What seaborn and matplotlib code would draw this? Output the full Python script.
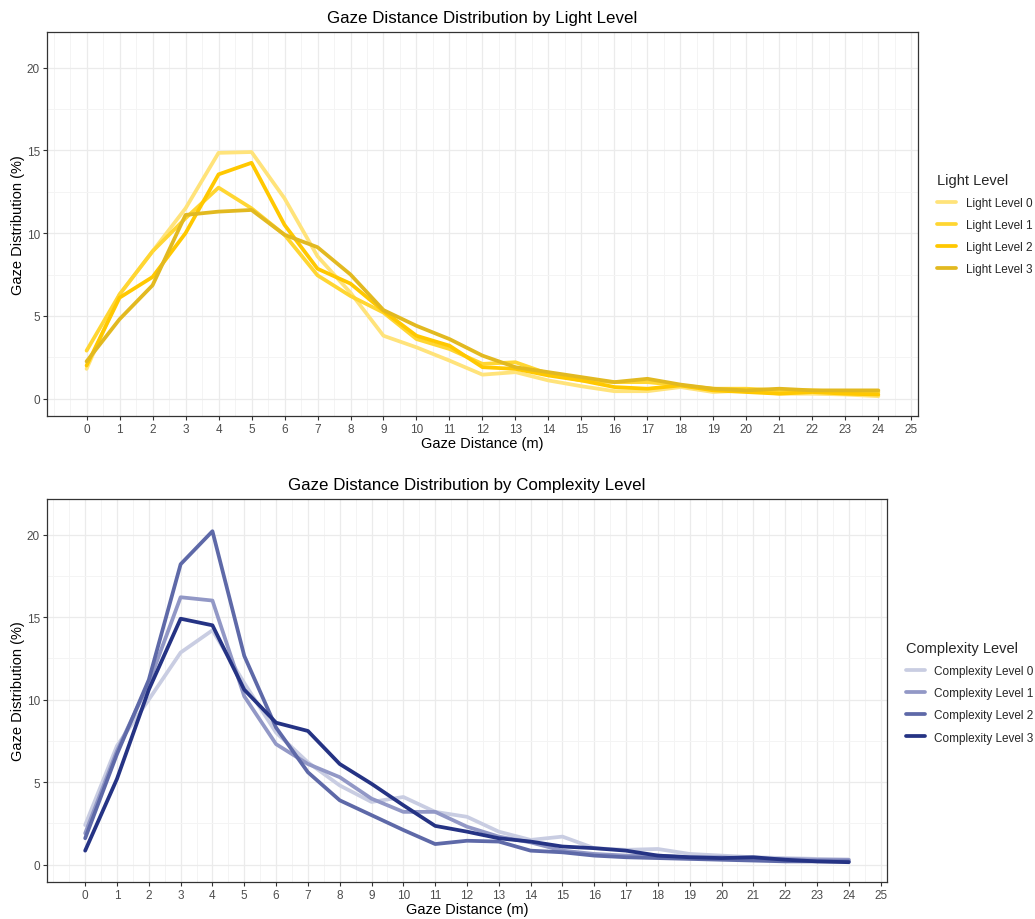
import numpy as np
import pandas as pd
import seaborn as sns
import matplotlib
matplotlib.use("Agg")
import matplotlib.pyplot as plt
from matplotlib.ticker import MultipleLocator, FixedLocator

# Gaze distance bins (m)
distance = list(range(0, 25))
distance_ticks = list(range(0, 26))

# Gaze distribution (%) per light level
light_levels = ["Light Level 0", "Light Level 1", "Light Level 2", "Light Level 3"]
light_0 = [1.8, 6.3, 8.9, 11.5, 14.85, 14.9, 12.1, 8.6, 6.4, 3.8, 3.1, 2.3, 1.45, 1.6, 1.1, 0.75, 0.45, 0.45, 0.7, 0.4, 0.5, 0.3, 0.3, 0.25, 0.15]
light_1 = [2.9, 6.3, 8.9, 10.9, 12.75, 11.5, 9.9, 7.45, 6.2, 5.2, 3.6, 3.0, 2.1, 2.2, 1.5, 1.1, 1.0, 1.0, 0.8, 0.6, 0.6, 0.5, 0.5, 0.4, 0.4]
light_2 = [2.0, 6.1, 7.35, 10.0, 13.55, 14.25, 10.5, 7.85, 6.95, 5.3, 3.8, 3.2, 1.9, 1.8, 1.4, 1.1, 0.7, 0.6, 0.8, 0.5, 0.4, 0.3, 0.4, 0.3, 0.25]
light_3 = [2.25, 4.8, 6.85, 11.1, 11.3, 11.4, 9.9, 9.15, 7.5, 5.35, 4.4, 3.6, 2.6, 1.9, 1.6, 1.3, 1.0, 1.2, 0.85, 0.6, 0.5, 0.6, 0.5, 0.5, 0.5]

# Gaze distribution (%) per complexity level
complexity_levels = ["Complexity Level 0", "Complexity Level 1", "Complexity Level 2", "Complexity Level 3"]
complexity_0 = [2.4, 7.2, 10.0, 12.85, 14.2, 11.0, 8.0, 6.2, 4.8, 3.8, 4.1, 3.2, 2.9, 2.0, 1.5, 1.7, 1.0, 0.9, 0.95, 0.65, 0.55, 0.45, 0.4, 0.35, 0.3]
complexity_1 = [1.9, 6.9, 11.0, 16.2, 16.0, 10.2, 7.3, 6.1, 5.3, 4.0, 3.2, 3.2, 2.3, 1.7, 1.35, 0.85, 0.65, 0.55, 0.55, 0.45, 0.45, 0.35, 0.35, 0.3, 0.3]
complexity_2 = [1.6, 6.7, 11.2, 18.2, 20.2, 12.65, 8.3, 5.6, 3.9, 3.0, 2.1, 1.25, 1.45, 1.4, 0.85, 0.75, 0.55, 0.45, 0.4, 0.35, 0.3, 0.25, 0.2, 0.2, 0.2]
complexity_3 = [0.85, 5.2, 10.6, 14.9, 14.5, 10.6, 8.6, 8.1, 6.1, 4.9, 3.6, 2.35, 2.0, 1.6, 1.4, 1.1, 1.0, 0.85, 0.55, 0.45, 0.4, 0.45, 0.3, 0.2, 0.15]

light_colors = ["#FFE37A", "#FFD632", "#FFC800", "#E2B920"]
complexity_colors = ["#C9CDE2", "#9298C6", "#5E69A8", "#253384"]


def long_form(levels, series, column):
    frames = []
    for name, values in zip(levels, series):
        frames.append(pd.DataFrame({"distance": distance, "share": values, column: name}))
    return pd.concat(frames, ignore_index=True)


light_df = long_form(light_levels, [light_0, light_1, light_2, light_3], "Light Level")
complexity_df = long_form(complexity_levels,
                          [complexity_0, complexity_1, complexity_2, complexity_3],
                          "Complexity Level")

sns.set_theme(style="white")
plt.rcParams["font.family"] = ["Liberation Sans", "DejaVu Sans"]

fig = plt.figure(figsize=(10.35, 9.2), dpi=100)
ax_top = fig.add_axes([0.0454, 0.5467, 0.8415, 0.4174])
ax_bot = fig.add_axes([0.0454, 0.0402, 0.8116, 0.4163])


def style_panel(ax, title):
    ax.set_xlim(-1.2, 25.2)
    ax.set_ylim(-1.05, 22.15)
    ax.xaxis.set_major_locator(FixedLocator(distance_ticks))
    ax.xaxis.set_minor_locator(MultipleLocator(0.5))
    ax.yaxis.set_major_locator(FixedLocator([0, 5, 10, 15, 20]))
    ax.yaxis.set_minor_locator(MultipleLocator(2.5))
    ax.grid(which="major", color="#EBEBEB", linewidth=0.9)
    ax.grid(which="minor", color="#F4F4F4", linewidth=0.7)
    ax.set_axisbelow(True)
    for sp in ax.spines.values():
        sp.set_color("#333333")
        sp.set_linewidth(0.9)
    ax.tick_params(which="major", length=3, width=0.8, color="#333333",
                   labelsize=8.5, labelcolor="#4D4D4D", pad=2,
                   bottom=True, left=True)
    ax.tick_params(which="minor", length=0)
    ax.set_xlabel("Gaze Distance (m)", fontsize=10.5, color="black", labelpad=1)
    ax.set_ylabel("Gaze Distribution (%)", fontsize=10.5, color="black", labelpad=1)
    ax.set_title(title, fontsize=12.2, color="black", pad=7)


sns.lineplot(data=light_df, x="distance", y="share", hue="Light Level",
             hue_order=light_levels, palette=light_colors, linewidth=2.7,
             ax=ax_top)
style_panel(ax_top, "Gaze Distance Distribution by Light Level")
sns.move_legend(ax_top, "center left", bbox_to_anchor=(1.01, 0.50), frameon=False,
                title="Light Level", fontsize=8.5, title_fontsize=10.5,
                handlelength=1.6, labelspacing=0.85, alignment="left")

sns.lineplot(data=complexity_df, x="distance", y="share", hue="Complexity Level",
             hue_order=complexity_levels, palette=complexity_colors, linewidth=2.7,
             ax=ax_bot)
style_panel(ax_bot, "Gaze Distance Distribution by Complexity Level")
sns.move_legend(ax_bot, "center left", bbox_to_anchor=(1.01, 0.495), frameon=False,
                title="Complexity Level", fontsize=8.5, title_fontsize=10.5,
                handlelength=1.6, labelspacing=0.85, alignment="left")

fig.savefig("out.png", dpi=100, facecolor="white")
